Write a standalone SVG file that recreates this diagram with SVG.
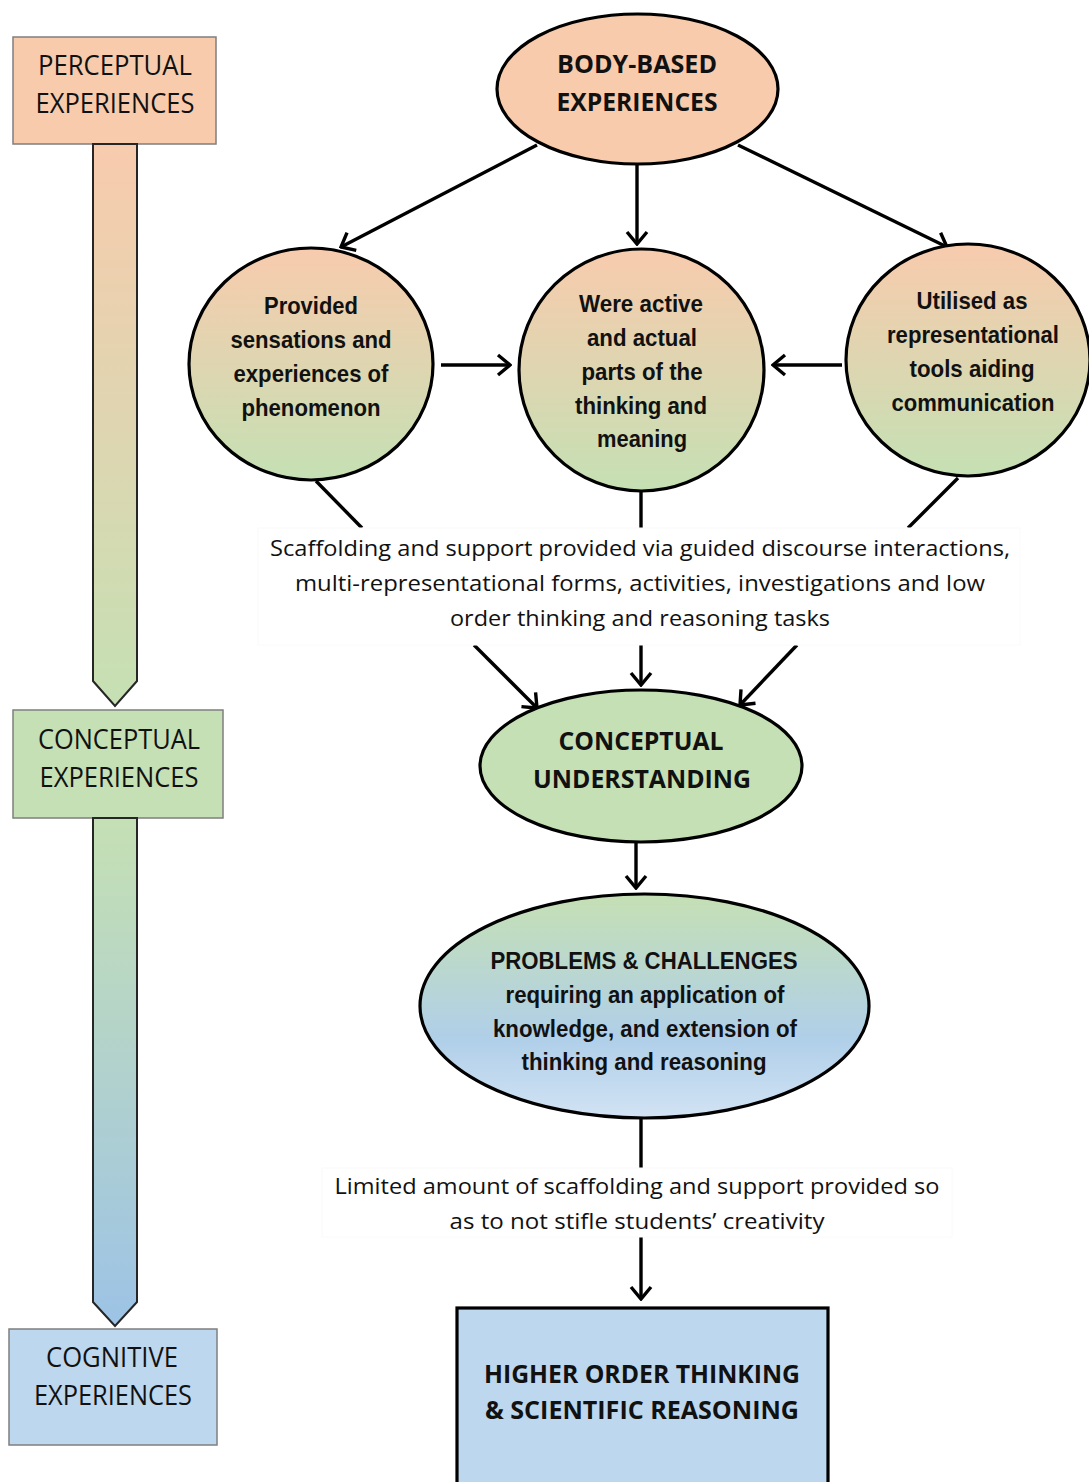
<svg xmlns="http://www.w3.org/2000/svg" width="1089" height="1482" viewBox="0 0 1089 1482">
<style>
.lbl{font-family:"Open Sans","Liberation Sans",sans-serif;font-size:27px;fill:#111;text-anchor:middle}
.bold{font-family:"Open Sans","Liberation Sans",sans-serif;font-size:25px;font-weight:bold;fill:#111;text-anchor:middle}
.nar{font-family:"Liberation Sans",Arial,sans-serif;font-size:24px;font-weight:bold;fill:#111;text-anchor:middle}
.note{font-family:"Open Sans","Liberation Sans",sans-serif;font-size:22px;fill:#111;text-anchor:middle}
.sbox{stroke:#7f7f7f;stroke-width:1.5}
.band{stroke:#262626;stroke-width:2}
.node{stroke:#000;stroke-width:3.2}
.conn line{stroke:#000;stroke-width:3.4;fill:none}
</style>
<defs>
<linearGradient id="gPG" x1="0" y1="0" x2="0" y2="1"><stop offset="0" stop-color="#f8cbad"/><stop offset="1" stop-color="#c5e0b4"/></linearGradient>
<linearGradient id="gGB" x1="0" y1="0" x2="0" y2="1"><stop offset="0" stop-color="#c5e0b4"/><stop offset="1" stop-color="#9dc3e6"/></linearGradient>
<linearGradient id="gPr" x1="0" y1="0" x2="0" y2="1"><stop offset="0" stop-color="#c5e0b4"/><stop offset="0.65" stop-color="#b0cfe9"/><stop offset="1" stop-color="#d2e3f4"/></linearGradient>
<marker id="ah" markerUnits="userSpaceOnUse" viewBox="-2 -2 16 24" refX="12" refY="10" markerWidth="16" markerHeight="24" orient="auto">
<path d="M0,0 L12,10 L0,20" fill="none" stroke="#000" stroke-width="3.4"/>
</marker>
</defs>

<g id="perceptual">
<rect class="sbox" x="13" y="37" width="203" height="107" fill="#f8cbad"/>
<text class="lbl" x="115" y="75" textLength="154" lengthAdjust="spacingAndGlyphs">PERCEPTUAL</text>
<text class="lbl" x="115" y="113" textLength="159" lengthAdjust="spacingAndGlyphs">EXPERIENCES</text>
</g>
<g id="band1">
<polygon class="band" points="93,144 137,144 137,681 115,706 93,681" fill="url(#gPG)"/>
</g>
<g id="conceptual">
<rect class="sbox" x="13" y="710" width="210" height="108" fill="#c5e0b4"/>
<text class="lbl" x="119" y="749" textLength="162" lengthAdjust="spacingAndGlyphs">CONCEPTUAL</text>
<text class="lbl" x="119" y="787" textLength="159" lengthAdjust="spacingAndGlyphs">EXPERIENCES</text>
</g>
<g id="band2">
<polygon class="band" points="93,818 137,818 137,1302 115,1326 93,1302" fill="url(#gGB)"/>
</g>
<g id="cognitive">
<rect class="sbox" x="9" y="1329" width="208" height="116" fill="#bdd7ee"/>
<text class="lbl" x="112" y="1367" textLength="132" lengthAdjust="spacingAndGlyphs">COGNITIVE</text>
<text class="lbl" x="113" y="1405" textLength="158" lengthAdjust="spacingAndGlyphs">EXPERIENCES</text>
</g>

<g class="conn" id="connectors">
<line x1="537" y1="145" x2="341" y2="247" marker-end="url(#ah)"/>
<line x1="637" y1="165" x2="637" y2="244" marker-end="url(#ah)"/>
<line x1="738" y1="145" x2="947" y2="247" marker-end="url(#ah)"/>
<line x1="441" y1="365" x2="510" y2="365" marker-end="url(#ah)"/>
<line x1="842" y1="365" x2="773" y2="365" marker-end="url(#ah)"/>
<line x1="316" y1="481" x2="362" y2="528"/>
<line x1="641" y1="491" x2="641" y2="528"/>
<line x1="958" y1="478" x2="908" y2="528"/>
<line x1="474" y1="645" x2="537" y2="708" marker-end="url(#ah)"/>
<line x1="641" y1="645" x2="641" y2="685" marker-end="url(#ah)"/>
<line x1="797" y1="645" x2="740" y2="705" marker-end="url(#ah)"/>
<line x1="636" y1="843" x2="636" y2="888" marker-end="url(#ah)"/>
<line x1="641" y1="1119" x2="641" y2="1168"/>
<line x1="641" y1="1237" x2="641" y2="1299" marker-end="url(#ah)"/>
</g>

<g id="body">
<ellipse class="node" cx="637.5" cy="89" rx="140.5" ry="75" fill="#f8cbad"/>
<text class="bold" x="637" y="73" textLength="160" lengthAdjust="spacingAndGlyphs">BODY-BASED</text>
<text class="bold" x="637" y="111" textLength="161" lengthAdjust="spacingAndGlyphs">EXPERIENCES</text>
</g>
<g id="sensations">
<ellipse class="node" cx="311" cy="364" rx="122" ry="116" fill="url(#gPG)"/>
<text class="nar" x="311" y="314" textLength="94" lengthAdjust="spacingAndGlyphs">Provided</text>
<text class="nar" x="311" y="348" textLength="161" lengthAdjust="spacingAndGlyphs">sensations and</text>
<text class="nar" x="311" y="382" textLength="155" lengthAdjust="spacingAndGlyphs">experiences of</text>
<text class="nar" x="311" y="416" textLength="139" lengthAdjust="spacingAndGlyphs">phenomenon</text>
</g>
<g id="active">
<ellipse class="node" cx="641.5" cy="370" rx="122.5" ry="121" fill="url(#gPG)"/>
<text class="nar" x="641" y="312" textLength="124" lengthAdjust="spacingAndGlyphs">Were active</text>
<text class="nar" x="642" y="346" textLength="110" lengthAdjust="spacingAndGlyphs">and actual</text>
<text class="nar" x="642" y="380" textLength="121" lengthAdjust="spacingAndGlyphs">parts of the</text>
<text class="nar" x="641" y="414" textLength="132" lengthAdjust="spacingAndGlyphs">thinking and</text>
<text class="nar" x="642" y="447" textLength="90" lengthAdjust="spacingAndGlyphs">meaning</text>
</g>
<g id="utilised">
<ellipse class="node" cx="968" cy="360" rx="122" ry="116" fill="url(#gPG)"/>
<text class="nar" x="972" y="309" textLength="111" lengthAdjust="spacingAndGlyphs">Utilised as</text>
<text class="nar" x="973" y="343" textLength="172" lengthAdjust="spacingAndGlyphs">representational</text>
<text class="nar" x="972" y="377" textLength="125" lengthAdjust="spacingAndGlyphs">tools aiding</text>
<text class="nar" x="973" y="411" textLength="163" lengthAdjust="spacingAndGlyphs">communication</text>
</g>
<g id="scaffolding">
<rect x="258" y="528" width="762" height="117" fill="#fff" stroke="#fafafa" stroke-width="1"/>
<text class="note" x="640" y="556" textLength="740" lengthAdjust="spacingAndGlyphs">Scaffolding and support provided via guided discourse interactions,</text>
<text class="note" x="640" y="591" textLength="690" lengthAdjust="spacingAndGlyphs">multi-representational forms, activities, investigations and low</text>
<text class="note" x="640" y="626" textLength="380" lengthAdjust="spacingAndGlyphs">order thinking and reasoning tasks</text>
</g>
<g id="understanding">
<ellipse class="node" cx="641" cy="766" rx="161" ry="76" fill="#c5e0b4"/>
<text class="bold" x="641" y="750" textLength="165" lengthAdjust="spacingAndGlyphs">CONCEPTUAL</text>
<text class="bold" x="642" y="788" textLength="218" lengthAdjust="spacingAndGlyphs">UNDERSTANDING</text>
</g>
<g id="problems">
<ellipse class="node" cx="644.5" cy="1006" rx="224.5" ry="112" fill="url(#gPr)"/>
<text class="nar" x="644" y="969" textLength="307" lengthAdjust="spacingAndGlyphs">PROBLEMS &amp; CHALLENGES</text>
<text class="nar" x="645" y="1003" textLength="279" lengthAdjust="spacingAndGlyphs">requiring an application of</text>
<text class="nar" x="645" y="1037" textLength="304" lengthAdjust="spacingAndGlyphs">knowledge, and extension of</text>
<text class="nar" x="644" y="1070" textLength="245" lengthAdjust="spacingAndGlyphs">thinking and reasoning</text>
</g>
<g id="limited">
<rect x="322" y="1168" width="630" height="69" fill="#fff" stroke="#fafafa" stroke-width="1"/>
<text class="note" x="637" y="1194" textLength="605" lengthAdjust="spacingAndGlyphs">Limited amount of scaffolding and support provided so</text>
<text class="note" x="637" y="1229" textLength="375" lengthAdjust="spacingAndGlyphs">as to not stifle students’ creativity</text>
</g>
<g id="higher">
<rect class="node" x="457" y="1308" width="371" height="190" fill="#bdd7ee"/>
<text class="bold" x="642" y="1383" textLength="316" lengthAdjust="spacingAndGlyphs">HIGHER ORDER THINKING</text>
<text class="bold" x="642" y="1419" textLength="314" lengthAdjust="spacingAndGlyphs">&amp; SCIENTIFIC REASONING</text>
</g>
</svg>
